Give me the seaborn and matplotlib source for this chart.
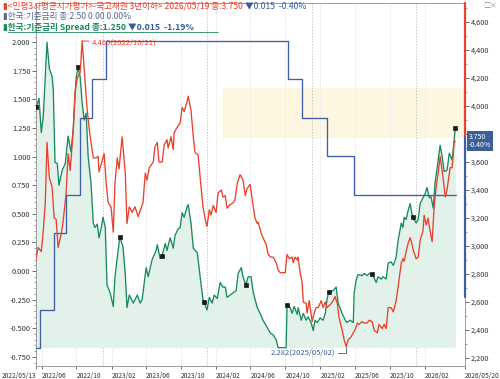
import numpy as np
import pandas as pd
import matplotlib
matplotlib.use("Agg")
import matplotlib.pyplot as plt
import matplotlib.ticker as mticker
from matplotlib.patches import Rectangle
from matplotlib.lines import Line2D
import seaborn as sns

start = pd.Timestamp("2022-05-13")

# 스프레드 (국고채 3년 - 기준금리) : 시작일(2022/05/13)로부터 경과일, 값
green_days = [0, 10, 18, 25, 38, 46, 56, 60, 66, 74,
              80, 91, 102, 112, 122, 130, 140, 147, 154, 161,
              168, 175, 182, 192, 200, 206, 214, 220, 228, 234,
              242, 248, 259, 270, 276, 284, 293, 304, 312, 318,
              326, 340, 354, 364, 371, 385, 392, 406, 420, 424,
              434, 440, 452, 458, 469, 480, 486, 497, 504, 511,
              518, 528, 532, 542, 550, 564, 574, 584, 588, 598,
              606, 616, 623, 634, 644, 654, 662, 668, 679, 690,
              700, 707, 718, 724, 734, 742, 752, 760, 774, 784,
              794, 808, 819, 830, 840, 847, 861, 875, 878, 889,
              896, 903, 914, 917, 928, 935, 945, 952, 962, 970,
              976, 984, 994, 1004, 1012, 1018, 1024, 1040, 1050, 1057,
              1071, 1082, 1088, 1099, 1110, 1113, 1120, 1127, 1141, 1148,
              1158, 1166, 1176, 1183, 1190, 1197, 1208, 1214, 1225, 1232,
              1242, 1250, 1260, 1267, 1278, 1284, 1288, 1295, 1302, 1309,
              1313, 1318, 1330, 1337, 1344, 1354, 1362, 1368, 1376, 1382,
              1390, 1396, 1404, 1414, 1421, 1428, 1438, 1446, 1456, 1463,
              1467]
green_vals = [1.43, 1.51, 1.21, 1.35, 2.00, 1.77, 1.70, 1.58, 0.95, 0.94,
              0.75, 0.88, 0.94, 1.18, 1.04, 1.25, 1.69, 1.78, 1.70, 1.47,
              1.32, 1.38, 1.00, 0.77, 0.42, 0.38, 0.41, 0.29, 0.38, 0.47,
              0.38, -0.12, -0.19, -0.31, -0.05, 0.12, 0.30, 0.21, -0.03, -0.32,
              -0.21, -0.28, -0.21, -0.28, -0.25, 0.03, -0.05, 0.10, 0.18, 0.23,
              0.11, 0.13, 0.24, 0.18, 0.29, 0.20, 0.31, 0.37, 0.38, 0.51,
              0.47, 0.56, 0.58, 0.42, 0.20, 0.16, -0.05, -0.25, -0.27, -0.34,
              -0.23, -0.28, -0.21, -0.24, -0.10, -0.14, -0.14, -0.23, -0.21, -0.19,
              -0.17, -0.02, 0.03, -0.05, -0.12, -0.05, -0.05, -0.19, -0.32, -0.37,
              -0.43, -0.49, -0.54, -0.56, -0.60, -0.67, -0.67, -0.67, -0.30, -0.32,
              -0.37, -0.31, -0.38, -0.32, -0.43, -0.37, -0.43, -0.40, -0.45, -0.52,
              -0.43, -0.45, -0.41, -0.43, -0.37, -0.25, -0.18, -0.17, -0.14, -0.28,
              -0.37, -0.43, -0.45, -0.43, -0.45, -0.19, -0.08, -0.03, -0.04, -0.02,
              -0.04, -0.02, -0.03, -0.06, -0.10, -0.05, -0.07, -0.05, -0.07, 0.07,
              0.08, 0.05, 0.12, 0.27, 0.42, 0.38, 0.47, 0.45, 0.53, 0.59,
              0.53, 0.47, 0.42, 0.45, 0.59, 0.64, 0.68, 0.73, 0.64, 0.65,
              0.55, 0.77, 0.91, 1.10, 1.00, 0.87, 0.88, 1.03, 0.97, 1.15,
              1.25]

# 국고채 3년 (민평3사) 금리 %
red_days = [0, 7, 18, 25, 32, 38, 46, 56, 63, 70,
            77, 88, 94, 105, 112, 119, 130, 136, 144, 154,
            157, 161, 171, 178, 186, 192, 200, 210, 217, 220,
            231, 238, 245, 252, 262, 270, 276, 284, 290, 301,
            304, 312, 318, 326, 336, 346, 357, 374, 382, 388,
            396, 410, 416, 424, 430, 441, 448, 458, 462, 472,
            480, 483, 494, 504, 511, 518, 528, 532, 542, 550,
            556, 567, 574, 584, 592, 598, 606, 612, 620, 630,
            637, 648, 654, 662, 668, 676, 690, 696, 704, 714,
            724, 732, 738, 749, 760, 766, 774, 777, 788, 794,
            805, 812, 822, 830, 840, 847, 854, 864, 872, 878,
            886, 896, 900, 906, 914, 917, 924, 931, 935, 945,
            948, 956, 966, 973, 980, 987, 998, 1004, 1012, 1018,
            1029, 1040, 1046, 1054, 1060, 1071, 1078, 1085, 1092, 1102,
            1110, 1116, 1124, 1130, 1141, 1148, 1158, 1166, 1176, 1183,
            1194, 1200, 1211, 1218, 1225, 1232, 1242, 1250, 1260, 1267,
            1278, 1284, 1288, 1295, 1302, 1309, 1316, 1320, 1330, 1337,
            1344, 1354, 1358, 1365, 1372, 1376, 1386, 1393, 1400, 1407,
            1414, 1424, 1432, 1438, 1449, 1456, 1463, 1467]
red_vals = [2.91, 2.99, 2.96, 3.11, 3.31, 3.74, 3.49, 3.42, 3.20, 3.19,
            2.99, 3.09, 3.17, 3.38, 3.66, 3.54, 3.83, 4.10, 4.20, 4.24,
            4.33, 4.465, 4.19, 3.99, 3.83, 3.74, 3.63, 3.63, 3.64, 3.53,
            3.61, 3.66, 3.45, 3.31, 3.28, 3.10, 3.45, 3.63, 3.55, 3.78,
            3.71, 3.52, 3.16, 3.28, 3.24, 3.28, 3.21, 3.31, 3.52, 3.47,
            3.56, 3.60, 3.71, 3.74, 3.60, 3.60, 3.72, 3.76, 3.70, 3.78,
            3.69, 3.81, 3.85, 3.88, 3.99, 3.96, 4.03, 4.07, 3.97, 3.78,
            3.67, 3.65, 3.49, 3.28, 3.19, 3.14, 3.26, 3.22, 3.29, 3.24,
            3.38, 3.40, 3.35, 3.36, 3.27, 3.29, 3.31, 3.33, 3.45, 3.51,
            3.47, 3.36, 3.41, 3.44, 3.28, 3.20, 3.16, 3.17, 3.09, 3.06,
            3.01, 2.94, 2.92, 2.92, 2.88, 2.83, 2.81, 2.81, 2.81, 2.94,
            2.91, 2.92, 2.88, 2.92, 2.90, 2.92, 2.81, 2.74, 2.60, 2.59,
            2.52, 2.61, 2.46, 2.52, 2.56, 2.56, 2.61, 2.56, 2.60, 2.56,
            2.58, 2.61, 2.64, 2.59, 2.49, 2.40, 2.33, 2.282, 2.33, 2.35,
            2.38, 2.40, 2.45, 2.44, 2.46, 2.45, 2.45, 2.47, 2.46, 2.40,
            2.38, 2.44, 2.41, 2.44, 2.41, 2.56, 2.56, 2.53, 2.61, 2.71,
            2.88, 2.91, 2.89, 2.96, 3.02, 3.06, 3.01, 2.97, 2.91, 2.92,
            3.04, 3.11, 3.22, 3.15, 3.20, 3.14, 3.03, 3.28, 3.42, 3.52,
            3.64, 3.49, 3.35, 3.40, 3.56, 3.56, 3.74, 3.75]

# 한국 기준금리 변경일
base_dates = ["2022-05-13", "2022-05-26", "2022-07-13", "2022-08-25", "2022-10-12",
              "2022-11-24", "2023-01-13", "2024-10-11", "2024-11-28", "2025-02-25",
              "2025-05-29", "2026-05-20"]
base_rates = [1.50, 1.75, 2.25, 2.50, 3.00, 3.25, 3.50, 3.25, 3.00, 2.75, 2.50, 2.50]

marker_days = [0, 147, 293, 440, 588, 734, 878, 1024, 1176, 1318, 1467]

xtick_dates = ["2022-06-01", "2022-10-01", "2023-02-01", "2023-06-01", "2023-10-01",
               "2024-02-01", "2024-06-01", "2024-10-01", "2025-02-01", "2025-06-01",
               "2025-10-01", "2026-02-01"]
year_lines = ["2023-01-01", "2024-01-01", "2025-01-01", "2026-01-01"]

left_ticks = [-0.75, -0.5, -0.25, 0.0, 0.25, 0.5, 0.75, 1.0, 1.25, 1.5, 1.75, 2.0]
right_ticks = [2.2, 2.4, 2.6, 2.8, 3.0, 3.2, 3.4, 3.6, 3.8, 4.0, 4.2, 4.4, 4.6]

GREEN = "#178a5c"
RED = "#e8412c"
BLUE = "#3f5fa5"
LABEL_BLUE = "#3a5a9a"

sns.set_theme(style="white")
plt.rcParams["font.family"] = ["Noto Sans CJK KR", "DejaVu Sans"]

g_dates = start + pd.to_timedelta(green_days, unit="D")
r_dates = start + pd.to_timedelta(red_days, unit="D")
b_dates = pd.to_datetime(base_dates)
g = pd.DataFrame({"date": g_dates, "spread": green_vals})
r = pd.DataFrame({"date": r_dates, "yield": red_vals})
b = pd.DataFrame({"date": b_dates, "rate": base_rates})

fig = plt.figure(figsize=(5, 3.79), dpi=100)
ax = fig.add_axes([36 / 500, 13 / 379, 429 / 500, 363 / 379])
ax_b = ax.twinx()
ax_r = ax.twinx()

x0 = start - pd.Timedelta(days=0.5)
x1 = start + pd.Timedelta(days=1501)
for a in (ax, ax_b, ax_r):
    a.set_xlim(x0, x1)
ax.set_ylim(-0.830, 2.343)
ax_r.set_ylim(2.143, 4.736)
ax_b.set_ylim(1.383, 3.748)

# 배경 (알림창 잔상)
ax.add_patch(Rectangle((0.434, 0.628), 0.566, 0.138, transform=ax.transAxes,
                       facecolor="#fdf6e0", edgecolor="none", zorder=0))

# 그리드
for d in xtick_dates:
    ax.axvline(pd.Timestamp(d), color="#f0f0f0", lw=0.6, zorder=0)
for d in year_lines:
    ax.axvline(pd.Timestamp(d), color="#b8b8b8", lw=0.6, ls=(0, (1.5, 2)), zorder=0.5)

# 스프레드 영역 + 선
ax.fill_between(g["date"], g["spread"], g["spread"].min(), color="#e3f1eb", lw=0, zorder=1)
sns.lineplot(data=g, x="date", y="spread", ax=ax, color=GREEN, lw=0.95, zorder=3)
mk = g[np.isin(green_days, marker_days)]
ax.scatter(mk["date"], mk["spread"], marker="s", s=5, c="#1a1a1a", edgecolors="#000000",
           linewidths=0.4, zorder=4)

sns.lineplot(data=b, x="date", y="rate", ax=ax_b, color=BLUE, lw=0.95, drawstyle="steps-post")
sns.lineplot(data=r, x="date", y="yield", ax=ax_r, color=RED, lw=0.95)

# 왼쪽 축
ax.yaxis.set_major_locator(mticker.FixedLocator(left_ticks))
ax.yaxis.set_major_formatter(mticker.FuncFormatter(lambda v, p: f"{v:.3f}"))
ax.yaxis.set_minor_locator(mticker.MultipleLocator(0.05))
ax.tick_params(axis="y", which="major", left=True, length=3, width=0.6, color="#555555",
               labelsize=5.3, labelcolor="#333333", pad=1)
ax.tick_params(axis="y", which="minor", left=True, length=1.5, width=0.5, color="#777777")
ax.set_ylabel("")

# 오른쪽 축
ax_r.yaxis.set_major_locator(mticker.FixedLocator(right_ticks))
ax_r.yaxis.set_major_formatter(mticker.FuncFormatter(lambda v, p: f"{v * 1000:,.0f}"))
ax_r.yaxis.set_minor_locator(mticker.MultipleLocator(0.1))
ax_r.tick_params(axis="y", which="major", right=True, length=3, width=0.6, color="#555555",
                 labelsize=5.3, labelcolor="#333333", pad=1)
ax_r.tick_params(axis="y", which="minor", right=True, length=1.5, width=0.5, color="#777777")
ax_r.set_ylabel("")

ax_b.set_yticks([])
ax_b.set_ylabel("")
for a in (ax_b, ax_r):
    for s in a.spines.values():
        s.set_visible(False)
    a.tick_params(axis="x", bottom=False, labelbottom=False)
for s in ax.spines.values():
    s.set_color("#9a9a9a")
    s.set_linewidth(0.7)

# 오른쪽 축 색 띠
ax_r.plot([1, 1], [0.631, 1.0], transform=ax_r.transAxes, color=RED, lw=1.6, clip_on=False)
ax_r.plot([1, 1], [0.19, 0.631], transform=ax_r.transAxes, color=BLUE, lw=1.6, clip_on=False)

# x축
xt = [x0] + [pd.Timestamp(d) for d in xtick_dates] + [x1]
xl = ["2022/05/13"] + [pd.Timestamp(d).strftime("%Y/%m") for d in xtick_dates] + ["2026/05/20"]
ax.set_xticks(xt)
ax.set_xticklabels(xl)
ax.tick_params(axis="x", bottom=True, length=2.5, width=0.6, color="#555555",
               labelsize=4.8, labelcolor="#333333", pad=1.5)
for i, lab in enumerate(ax.get_xticklabels()):
    lab.set_ha("right" if i == 0 else "left")
ax.set_xlabel("")

# 주석
ax_r.annotate("4.465(2022/10/21)", xy=(start + pd.Timedelta(days=161), 4.465),
              xytext=(7, -1), textcoords="offset points", ha="left", va="center",
              fontsize=5.5, color=RED,
              arrowprops=dict(arrowstyle="-", color=RED, lw=0.7, shrinkA=0, shrinkB=0))
ax_r.annotate("2.282(2025/05/02)", xy=(start + pd.Timedelta(days=1085), 2.282),
              xytext=(-8, -4.5), textcoords="offset points", ha="right", va="center",
              fontsize=5.5, color=LABEL_BLUE,
              arrowprops=dict(arrowstyle="-", color="#555555", lw=0.6, shrinkA=0, shrinkB=0,
                              connectionstyle="angle,angleA=0,angleB=90,rad=0"))
ax_r.annotate("3.750\n-0.40%", xy=(1, 3.75), xycoords=("axes fraction", "data"),
              xytext=(3, 0), textcoords="offset points", ha="left", va="center",
              fontsize=5, color="white", linespacing=0.95, annotation_clip=False,
              bbox=dict(boxstyle="square,pad=0.25", facecolor="#3d5f96", edgecolor="none"))

# 범례(헤더) 텍스트
HS = 6.2
t1 = fig.text(3 / 500, 1 - 6 / 379, "▮<민평3사평균시가평가>-국고채권 3년이하> 2026/05/19 종:3.750 ",
              fontsize=HS, color=RED, va="center", ha="left")
ax.annotate("▼0.015  -0.40%", xy=(1, 0), xycoords=t1, va="bottom", ha="left",
            fontsize=HS, color=LABEL_BLUE)
fig.text(3 / 500, 1 - 16.5 / 379, "▮한국:기준금리 종:2.50 0.00 0.00%",
         fontsize=HS, color="#5a6890", va="center", ha="left")
t3 = fig.text(3 / 500, 1 - 27 / 379, "▮한국:기준금리 Spread 종:1.250 ",
              fontsize=HS, color=GREEN, va="center", ha="left", fontweight="bold")
ax.annotate("▼0.015  -1.19%", xy=(1, 0), xycoords=t3, va="bottom", ha="left",
            fontsize=HS, color=LABEL_BLUE, fontweight="bold")
fig.add_artist(Line2D([8 / 500, 218 / 500], [1 - 32 / 379] * 2, transform=fig.transFigure,
                      color=GREEN, lw=0.6))
fig.text(497 / 500, 1 - 6 / 379, "□×", fontsize=5, color="#888888", va="center", ha="right")

fig.savefig("out.png", dpi=100)
